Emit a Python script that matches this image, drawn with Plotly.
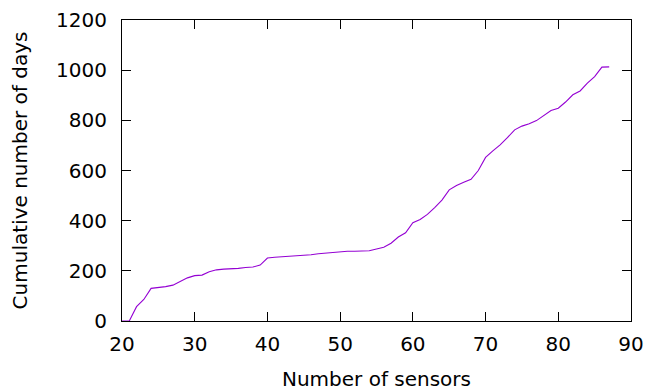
import plotly.graph_objects as go

sensors = [20, 21, 22, 23, 24, 25, 26, 27, 28, 29, 30, 31, 32, 33, 34, 35, 36, 37, 38, 39,
           40, 41, 42, 43, 44, 45, 46, 47, 48, 49, 50, 51, 52, 53, 54, 55, 56, 57, 58, 59,
           60, 61, 62, 63, 64, 65, 66, 67, 68, 69, 70, 71, 72, 73, 74, 75, 76, 77, 78, 79,
           80, 81, 82, 83, 84, 85, 86, 87]
cum_days = [0, 0, 57, 86, 130, 133, 137, 143, 158, 172, 181, 183, 196, 204, 207, 208, 210, 213, 215, 223,
            251, 254, 256, 257, 258, 259, 264, 268, 271, 274, 277, 278, 278, 279, 280, 287, 294, 310, 335, 352,
            392, 405, 425, 452, 482, 523, 540, 553, 565, 600, 652, 678, 702, 731, 762, 777, 786, 799, 820, 839,
            848, 873, 902, 917, 948, 974, 1012, 1013]

x_ticks = [20, 30, 40, 50, 60, 70, 80, 90]
y_ticks = [0, 200, 400, 600, 800, 1000, 1200]

fig = go.Figure()
fig.add_trace(go.Scatter(x=sensors, y=cum_days, mode="lines",
                         line=dict(color="#9400D3", width=1.1), showlegend=False))

font = dict(family="DejaVu Sans", size=20, color="black")
fig.update_layout(
    width=650, height=391,
    margin=dict(l=122, r=19, t=20, b=70),
    paper_bgcolor="white", plot_bgcolor="white",
    font=font,
    xaxis=dict(range=[20, 90], tickvals=x_ticks, ticks="inside", ticklen=9, tickcolor="black",
               showline=True, linecolor="black", linewidth=1, mirror="allticks",
               showgrid=False, zeroline=False, ticklabelstandoff=5, automargin=False,
               tickfont=font,
               title=dict(text="Number of sensors", standoff=16, font=font)),
    yaxis=dict(range=[0, 1200], tickvals=y_ticks, ticks="inside", ticklen=9, tickcolor="black",
               showline=True, linecolor="black", linewidth=1, mirror="allticks",
               showgrid=False, zeroline=False, ticklabelstandoff=10, automargin=False,
               tickfont=font,
               title=dict(text="Cumulative number of days", standoff=23, font=font)),
)
fig.write_html("out.html", config={"displayModeBar": False},
               post_script="document.body.style.margin='0';document.body.style.overflow='hidden';")
